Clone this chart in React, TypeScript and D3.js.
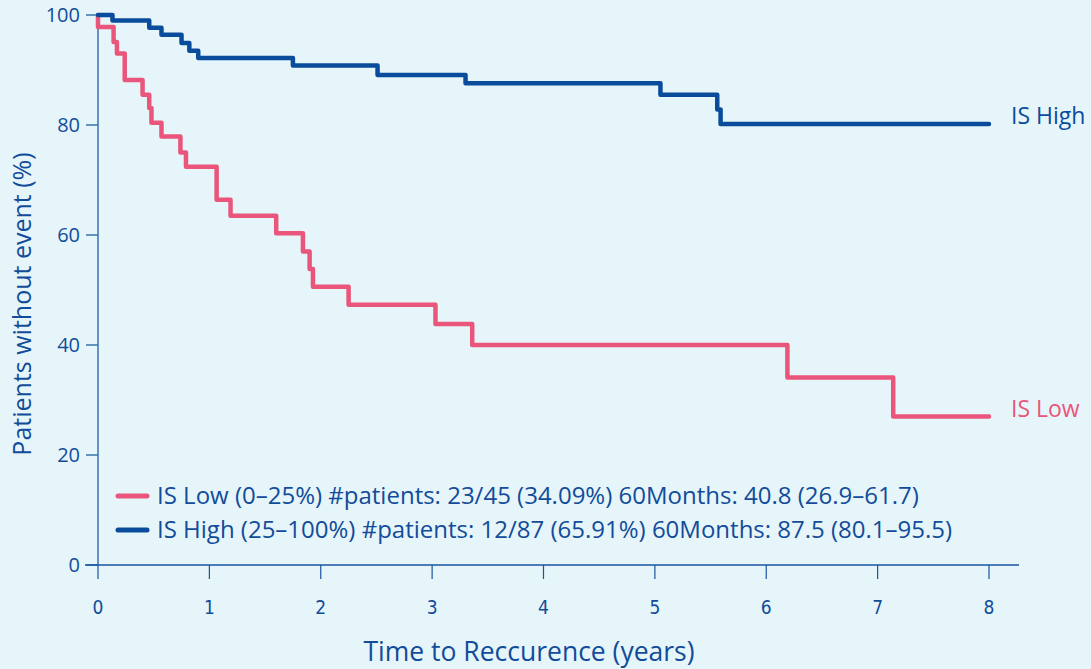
import React, { useEffect, useRef } from 'react';
import * as d3 from 'd3';

// IS High (blue) step curve
const highTimes = [0, 0.13, 0.46, 0.57, 0.75, 0.82, 0.9, 1.75, 2.51, 3.3, 5.05, 5.56, 5.59, 8.0];
const highSurv = [100, 99.0, 97.7, 96.4, 94.9, 93.5, 92.2, 90.8, 89.1, 87.6, 85.5, 82.8, 80.2, 80.2];

// IS Low (pink) step curve
const lowTimes = [0, 0, 0.14, 0.17, 0.24, 0.4, 0.46, 0.48, 0.57, 0.74, 0.79, 1.065, 1.19, 1.6, 1.84, 1.9, 1.93, 2.25, 3.03, 3.36, 6.19, 7.14, 8.0];
const lowSurv = [100, 97.8, 95.1, 93.0, 88.2, 85.5, 83.1, 80.4, 77.9, 75.0, 72.4, 66.4, 63.5, 60.3, 57.0, 53.8, 50.6, 47.3, 43.8, 40.0, 34.1, 27.0, 27.0];

const xTicks = [0, 1, 2, 3, 4, 5, 6, 7, 8];
const yTicks = [0, 20, 40, 60, 80, 100];

const seriesNames = ['IS High', 'IS Low'];
const legendLabels = [
  'IS Low (0\u201325%) #patients: 23/45 (34.09%) 60Months: 40.8 (26.9\u201361.7)',
  'IS High (25\u2013100%) #patients: 12/87 (65.91%) 60Months: 87.5 (80.1\u201395.5)',
];

const BLUE = '#0a4c9c';
const PINK = '#ea557b';
const TEXT = '#124c9a';
const FONT = '"Open Sans", sans-serif';

const App: React.FC = () => {
  const svgRef = useRef<SVGSVGElement>(null);

  useEffect(() => {
    if (!svgRef.current) return;
    const svg = d3.select(svgRef.current);
    svg.selectAll('*').remove();

    const width = 1091;
    const height = 669;

    svg.append('rect').attr('width', width).attr('height', height).attr('fill', '#e6f5f9');

    const x = d3.scaleLinear().domain([0, 8]).range([98, 989]);
    const y = d3.scaleLinear().domain([0, 100]).range([565, 15]);

    // y axis
    svg.append('line')
      .attr('x1', x(0)).attr('x2', x(0))
      .attr('y1', y(100)).attr('y2', y(0))
      .attr('stroke', '#3b6fb0').attr('stroke-width', 1.5);

    const yt = svg.append('g');
    yt.selectAll('line').data(yTicks).enter().append('line')
      .attr('x1', 86).attr('x2', x(0))
      .attr('y1', d => y(d)).attr('y2', d => y(d))
      .attr('stroke', '#3b6fb0').attr('stroke-width', 1.5);
    yt.selectAll('text').data(yTicks).enter().append('text')
      .attr('x', 80).attr('y', d => y(d)).attr('dy', '0.35em')
      .attr('text-anchor', 'end')
      .attr('font-family', FONT).attr('font-size', 20)
      .attr('fill', TEXT)
      .text(d => d);

    // x axis
    svg.append('line')
      .attr('x1', 85).attr('x2', 1019)
      .attr('y1', y(0)).attr('y2', y(0))
      .attr('stroke', '#1a539f').attr('stroke-width', 1.5);

    const xt = svg.append('g');
    xt.selectAll('line').data(xTicks).enter().append('line')
      .attr('x1', d => x(d)).attr('x2', d => x(d))
      .attr('y1', y(0)).attr('y2', 579)
      .attr('stroke', '#1a539f').attr('stroke-width', 1.2);
    xt.selectAll('text').data(xTicks).enter().append('text')
      .attr('x', d => x(d)).attr('y', 614)
      .attr('text-anchor', 'middle')
      .attr('font-family', '"Liberation Sans Narrow", "DejaVu Sans Condensed", sans-serif')
      .attr('font-size', 19)
      .attr('fill', TEXT)
      .text(d => d);

    // axis titles
    svg.append('text')
      .attr('x', 529).attr('y', 661)
      .attr('text-anchor', 'middle')
      .attr('font-family', FONT).attr('font-size', 26.5)
      .attr('fill', TEXT)
      .text('Time to Reccurence (years)');

    svg.append('text')
      .attr('transform', 'translate(31,304) rotate(-90)')
      .attr('text-anchor', 'middle')
      .attr('font-family', FONT).attr('font-size', 25)
      .attr('fill', TEXT)
      .text('Patients without event (%)');

    // curves
    const line = d3.line<[number, number]>()
      .x(d => x(d[0]))
      .y(d => y(d[1]))
      .curve(d3.curveStepAfter);

    const highData = highTimes.map((t, i) => [t, highSurv[i]] as [number, number]);
    const lowData = lowTimes.map((t, i) => [t, lowSurv[i]] as [number, number]);

    svg.append('path')
      .datum(lowData)
      .attr('fill', 'none')
      .attr('stroke', PINK)
      .attr('stroke-width', 4.5)
      .attr('stroke-linejoin', 'round')
      .attr('stroke-linecap', 'round')
      .attr('d', line);

    svg.append('path')
      .datum(highData)
      .attr('fill', 'none')
      .attr('stroke', BLUE)
      .attr('stroke-width', 4.5)
      .attr('stroke-linejoin', 'round')
      .attr('stroke-linecap', 'round')
      .attr('d', line);

    // end labels
    svg.append('text')
      .attr('x', 1011).attr('y', y(highSurv[highSurv.length - 1]) - 8).attr('dy', '0.35em')
      .attr('font-family', FONT).attr('font-size', 23)
      .attr('fill', BLUE)
      .text(seriesNames[0]);

    svg.append('text')
      .attr('x', 1011).attr('y', y(27) - 8).attr('dy', '0.35em')
      .attr('font-family', FONT).attr('font-size', 23)
      .attr('fill', PINK)
      .text(seriesNames[1]);

    // legend
    const legend = svg.append('g')
      .selectAll('g')
      .data(legendLabels)
      .enter().append('g')
      .attr('transform', (d, i) => `translate(0,${496 + i * 34})`);

    legend.append('line')
      .attr('x1', 118).attr('x2', 147)
      .attr('y1', 0).attr('y2', 0)
      .attr('stroke', (d, i) => (i === 0 ? PINK : BLUE))
      .attr('stroke-width', 5)
      .attr('stroke-linecap', 'round');

    legend.append('text')
      .attr('x', 157).attr('y', 0).attr('dy', '0.35em')
      .attr('font-family', FONT).attr('font-size', 24)
      .attr('fill', TEXT)
      .text(d => d);
  }, []);

  return (
    <div style={{ position: 'absolute', left: 0, top: 0 }}>
      <svg ref={svgRef} width={1091} height={669} style={{ display: 'block' }}></svg>
    </div>
  );
};

export default App;
